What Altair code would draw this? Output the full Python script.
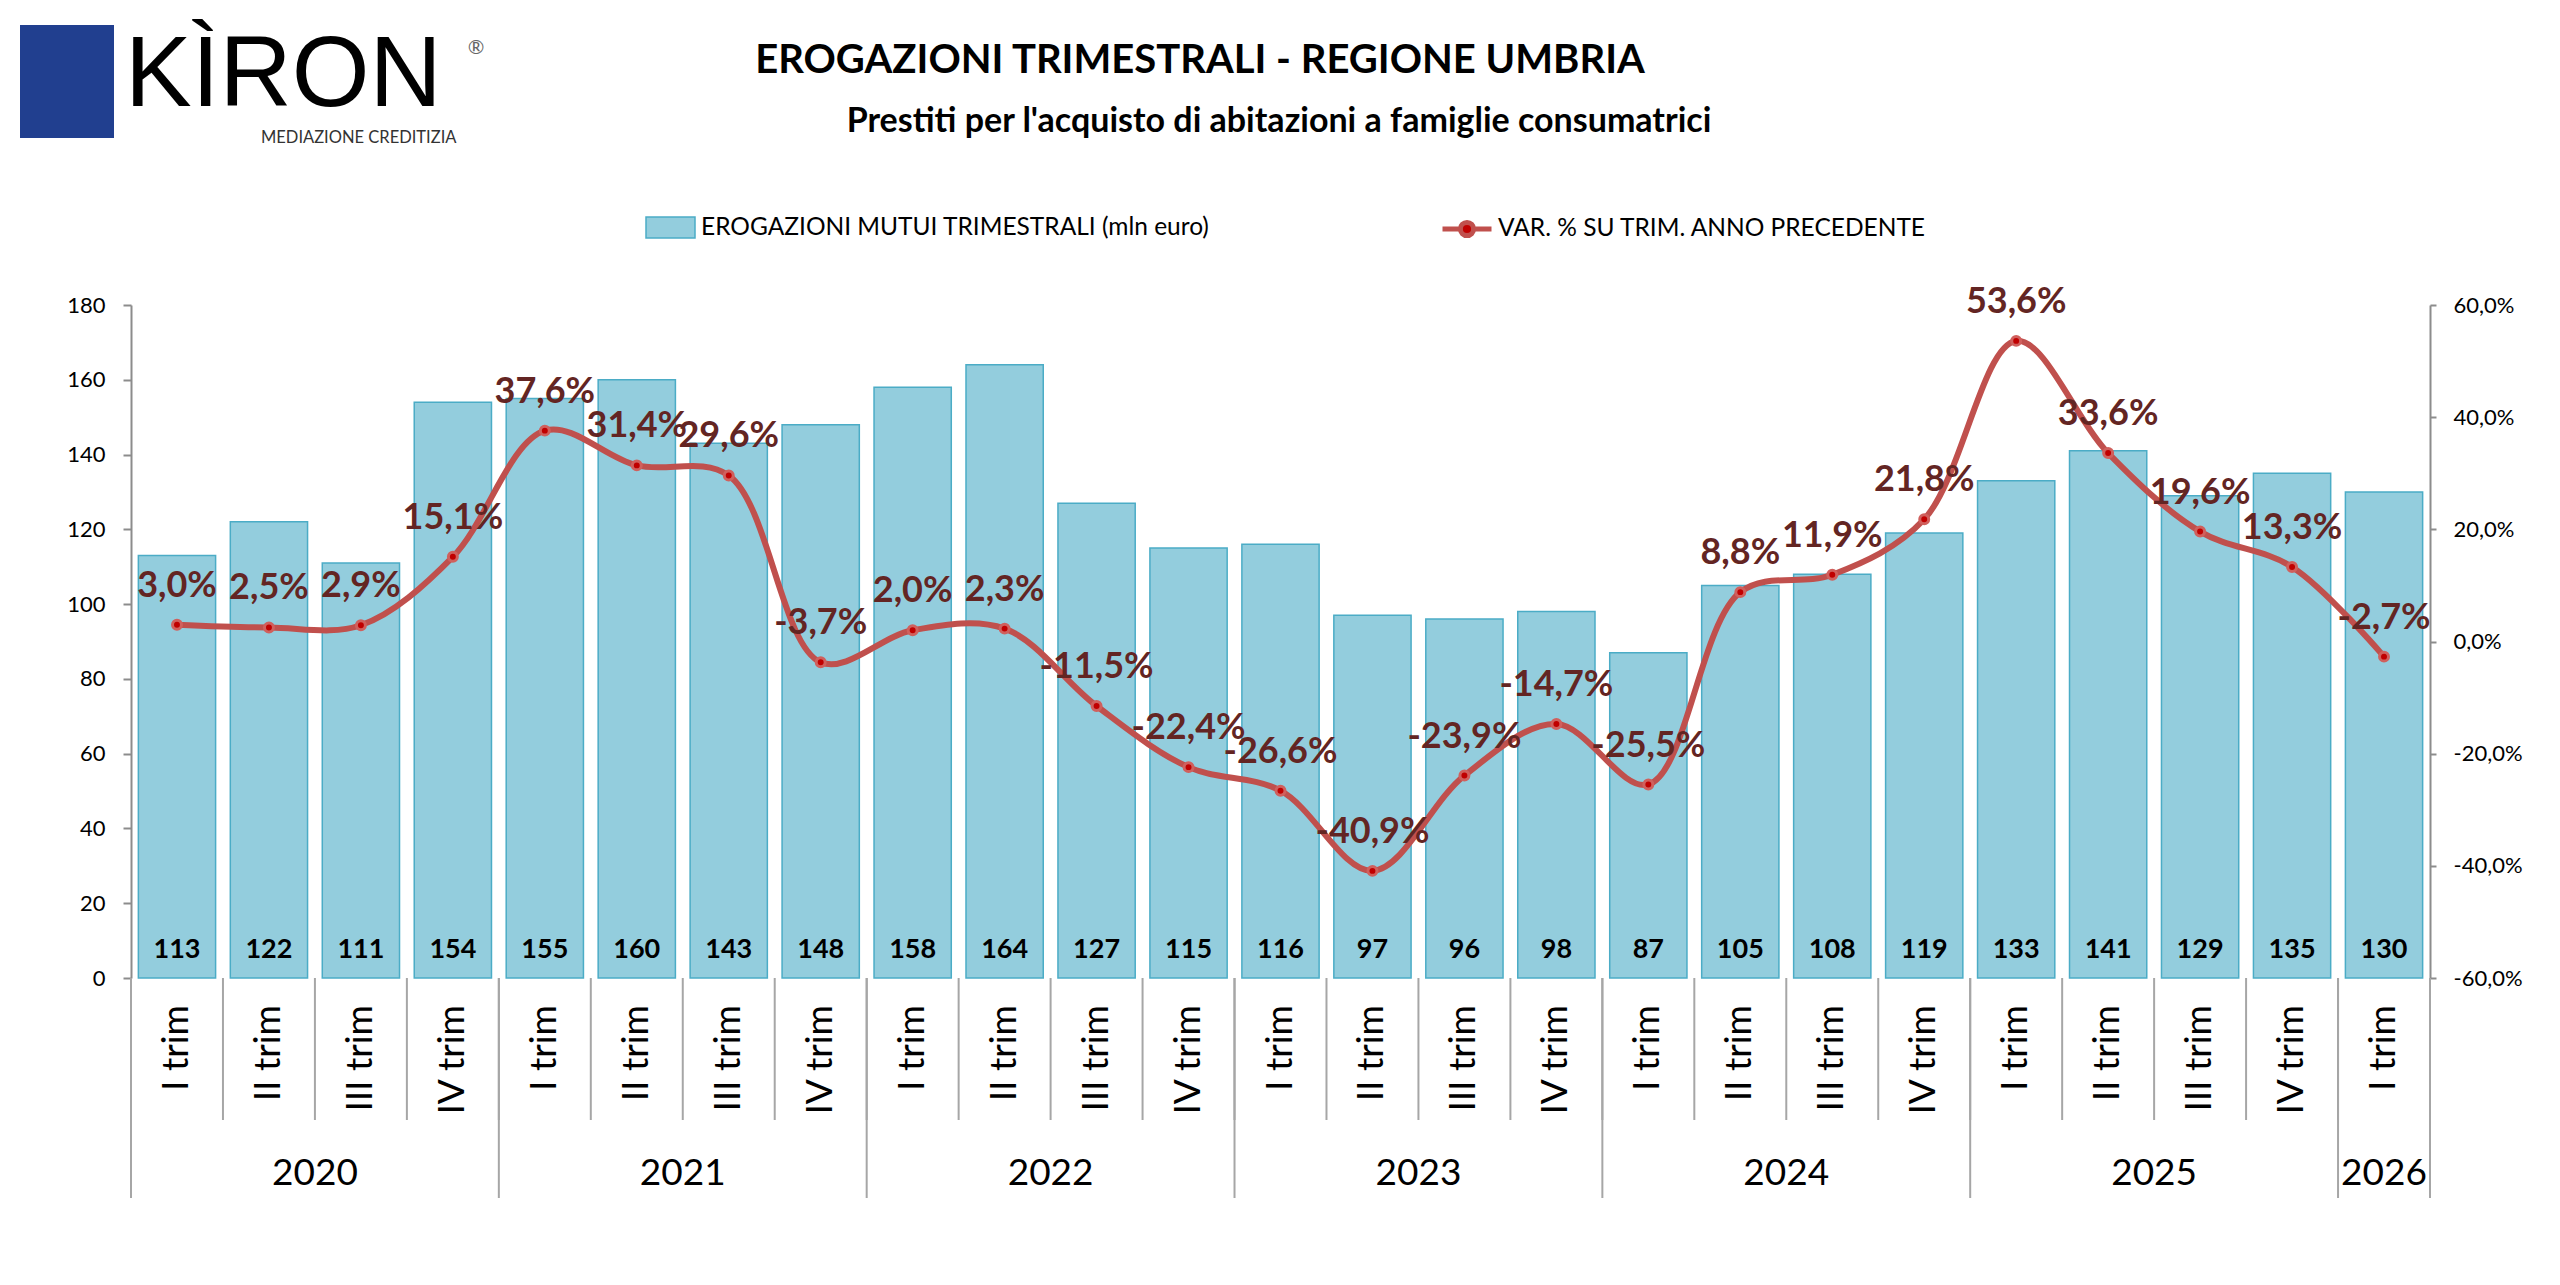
import pandas as pd
import altair as alt

# dati
trimestri = ["I trim", "II trim", "III trim", "IV trim"] * 6 + ["I trim"]
anni = [2020] * 4 + [2021] * 4 + [2022] * 4 + [2023] * 4 + [2024] * 4 + [2025] * 4 + [2026]
erogazioni = [113, 122, 111, 154, 155, 160, 143, 148, 158, 164, 127, 115, 116,
              97, 96, 98, 87, 105, 108, 119, 133, 141, 129, 135, 130]
variazioni = [3.0, 2.5, 2.9, 15.1, 37.6, 31.4, 29.6, -3.7, 2.0, 2.3, -11.5, -22.4, -26.6,
              -40.9, -23.9, -14.7, -25.5, 8.8, 11.9, 21.8, 53.6, 33.6, 19.6, 13.3, -2.7]

titolo = "EROGAZIONI TRIMESTRALI - REGIONE UMBRIA"
sottotitolo = "Prestiti per l'acquisto di abitazioni a famiglie consumatrici"
serie_bar = "EROGAZIONI MUTUI TRIMESTRALI (mln euro)"
serie_var = "VAR. % SU TRIM. ANNO PRECEDENTE"

W, H = 2299, 673
FONT = "Lato"

df = pd.DataFrame({"idx": range(len(erogazioni)), "trim": trimestri, "anno": anni,
                   "erog": erogazioni, "var": variazioni})
df["var_lab"] = [("%.1f" % v).replace(".", ",") + "%" for v in variazioni]
df["serie_bar"] = serie_bar
df["serie_var"] = serie_var

# separatori tra trimestri e tra anni, etichette anno
sep_trim = pd.DataFrame({"b": [i - 0.5 for i in range(len(erogazioni) + 1)]})
sep_anni = pd.DataFrame({"b": list(df.groupby("anno").idx.min() - 0.5) + [df.idx.max() + 0.5]})
lab_anni = df.groupby("anno", as_index=False).idx.mean()
lab_anni["anno_s"] = lab_anni.anno.astype(str)

xscale = alt.Scale(domain=[-0.5, len(erogazioni) - 0.5], nice=False, zero=False)
x_axis = alt.Axis(values=list(range(len(erogazioni))), labels=False, ticks=False,
                  tickSize=0, grid=False, title=None,
                  domainColor="#8C8C8C", domainWidth=2)

rect_path = "M-1,-0.43H1V0.43H-1Z"
line_path = "M-1,0H-0.27M0.27,0H1M0.27,0A0.27,0.27 0 1 1 -0.27,0A0.27,0.27 0 1 1 0.27,0Z"

bars = alt.Chart(df).transform_calculate(
    x0="datum.idx - 0.42", x1="datum.idx + 0.42"
).mark_bar(stroke="#4BACC6", strokeWidth=1.5).encode(
    x=alt.X("x0:Q", scale=xscale, axis=x_axis),
    x2="x1:Q",
    y=alt.Y("erog:Q", scale=alt.Scale(domain=[0, 180], nice=False),
            axis=alt.Axis(values=list(range(0, 181, 20)), title=None, grid=False,
                          labelFont=FONT, labelFontSize=22, labelColor="black",
                          tickSize=8, tickColor="#8C8C8C", tickWidth=2, labelPadding=18,
                          domainColor="#8C8C8C", domainWidth=2)),
    y2=alt.datum(0),
    color=alt.Color("serie_bar:N", scale=alt.Scale(range=["#93CDDD"]),
                    legend=alt.Legend(title=None, orient="none", legendX=514, legendY=-103,
                                      symbolType=rect_path, symbolSize=2401, padding=0,
                                      labelFont=FONT, labelFontSize=24.5, labelColor="black",
                                      labelOffset=5, labelLimit=900,
                                      symbolStrokeColor="#4BACC6", symbolStrokeWidth=1.5)),
)

bar_lab = alt.Chart(df).mark_text(font=FONT, fontSize=27, fontWeight="bold", color="black",
                                  dy=-20, baseline="alphabetic").encode(
    x=alt.X("idx:Q", scale=xscale, axis=None),
    y=alt.datum(0),
    text="erog:Q",
)

# etichette dei trimestri, ruotate
trim_lab = alt.Chart(df).mark_text(font=FONT, fontSize=37, color="black", angle=270,
                                   align="right", baseline="middle").encode(
    x=alt.X("idx:Q", scale=xscale, axis=None), y=alt.value(H + 27), text="trim:N")

rule_trim = alt.Chart(sep_trim).mark_rule(color="#A6A6A6", strokeWidth=2).encode(
    x=alt.X("b:Q", scale=xscale, axis=None), y=alt.value(H), y2=alt.value(H + 142))
rule_anni = alt.Chart(sep_anni).mark_rule(color="#A6A6A6", strokeWidth=2).encode(
    x=alt.X("b:Q", scale=xscale, axis=None), y=alt.value(H), y2=alt.value(H + 220))
anni_txt = alt.Chart(lab_anni).mark_text(font=FONT, fontSize=37, color="black",
                                         baseline="alphabetic").encode(
    x=alt.X("idx:Q", scale=xscale, axis=None), y=alt.value(H + 207), text="anno_s:N")

# intestazione e logo
tit = alt.Chart(pd.DataFrame({"t": [titolo]})).mark_text(
    font=FONT, fontSize=40, fontWeight="bold", color="black", baseline="alphabetic"
).encode(x=alt.value(1069), y=alt.value(-232), text="t:N")
sub = alt.Chart(pd.DataFrame({"t": [sottotitolo]})).mark_text(
    font=FONT, fontSize=34, fontWeight="bold", color="black", baseline="alphabetic"
).encode(x=alt.value(1148), y=alt.value(-173), text="t:N")
logo_box = alt.Chart(pd.DataFrame({"a": [0]})).mark_rect(color="#213F8F").encode(
    x=alt.value(-111), x2=alt.value(-17), y=alt.value(-280), y2=alt.value(-167))
logo_txt = alt.Chart(pd.DataFrame({"t": ["KÌRON"]})).mark_text(
    font="Liberation Sans", fontSize=100, color="black", align="left", baseline="alphabetic"
).encode(x=alt.value(-6), y=alt.value(-199), text="t:N")
logo_r = alt.Chart(pd.DataFrame({"t": ["®"]})).mark_text(
    font=FONT, fontSize=20, color="#666666", align="center", baseline="middle"
).encode(x=alt.value(345), y=alt.value(-257), text="t:N")
logo_sub = alt.Chart(pd.DataFrame({"t": ["MEDIAZIONE CREDITIZIA"]})).mark_text(
    font=FONT, fontSize=16.5, color="#333333", align="left", baseline="alphabetic"
).encode(x=alt.value(130), y=alt.value(-162), text="t:N")

left = alt.layer(bars, bar_lab, trim_lab, rule_trim, rule_anni, anni_txt,
                 tit, sub, logo_box, logo_txt, logo_r, logo_sub)

yvar = alt.Y("var:Q", scale=alt.Scale(domain=[-60, 60], nice=False),
             axis=alt.Axis(orient="right", values=list(range(-60, 61, 20)), title=None,
                           grid=False, labelFont=FONT, labelFontSize=22, labelColor="black",
                           labelExpr="(datum.value < 0 ? '-' : '') + replace(format(abs(datum.value), '.1f'), '.', ',') + '%'",
                           tickSize=6, tickColor="#8C8C8C", tickWidth=2, labelPadding=17,
                           domainColor="#8C8C8C", domainWidth=2))

line = alt.Chart(df).mark_line(color="#C0504D", strokeWidth=6, interpolate="catmull-rom").encode(
    x=alt.X("idx:Q", scale=xscale, axis=None), y=yvar)
pts = alt.Chart(df).mark_point(filled=True, size=80, stroke="#D0605D", strokeWidth=3,
                               opacity=1).encode(
    x=alt.X("idx:Q", scale=xscale, axis=None), y=yvar,
    fill=alt.Fill("serie_var:N", scale=alt.Scale(range=["#C00000"]),
                  legend=alt.Legend(title=None, orient="none", legendX=1309, legendY=-103,
                                    symbolType=line_path, symbolSize=2401, padding=0,
                                    labelFont=FONT, labelFontSize=24.5, labelColor="black",
                                    labelOffset=4, labelLimit=900,
                                    symbolStrokeColor="#C0504D", symbolStrokeWidth=5)),
)
pct_lab = alt.Chart(df).mark_text(font=FONT, fontSize=36, fontWeight="bold", color="#632523",
                                  dy=-28, baseline="alphabetic").encode(
    x=alt.X("idx:Q", scale=xscale, axis=None), y=yvar, text="var_lab:N")

right = alt.layer(line, pts, pct_lab)

chart = alt.layer(left, right).resolve_scale(y="independent").properties(
    width=W, height=H, padding={"left": 12, "top": 17, "right": 10, "bottom": 10},
    background="white"
).configure_view(stroke=None)

chart.save("out.html", embed_options={"renderer": "svg", "actions": False})
